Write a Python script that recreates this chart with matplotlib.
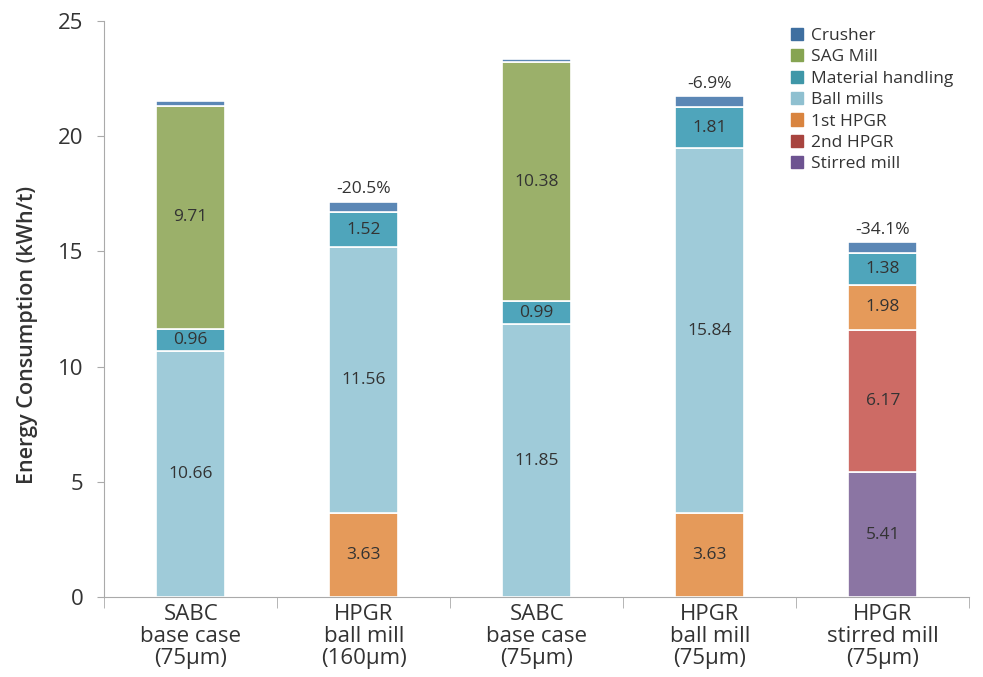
import matplotlib
matplotlib.use("Agg")
import matplotlib.pyplot as plt
import matplotlib.patches as mpatches
import numpy as np

plt.rcParams['font.family'] = ['Open Sans', 'DejaVu Sans']

# data
categories = ['SABC\nbase case\n(75µm)', 'HPGR\nball mill\n(160µm)', 'SABC\nbase case\n(75µm)',
              'HPGR\nball mill\n(75µm)', 'HPGR\nstirred mill\n(75µm)']
stirred = [0, 0, 0, 0, 5.41]
hpgr2 = [0, 0, 0, 0, 6.17]
hpgr1 = [0, 3.63, 0, 3.63, 1.98]
ball = [10.66, 11.56, 11.85, 15.84, 0]
material = [0.96, 1.52, 0.99, 1.81, 1.38]
sag = [9.71, 0, 10.38, 0, 0]
crusher = [0.2, 0.45, 0.12, 0.45, 0.45]
change_labels = ['', '-20.5%', '', '-6.9%', '-34.1%']

series = [('Stirred mill', stirred, '#8b75a3', '#6d5391'),
          ('2nd HPGR', hpgr2, '#cd6b65', '#a8443f'),
          ('1st HPGR', hpgr1, '#e59a5a', '#d9843f'),
          ('Ball mills', ball, '#9fcbd9', '#8fc0d0'),
          ('Material handling', material, '#4fa5bb', '#3f97a8'),
          ('SAG Mill', sag, '#9bb06a', '#86a452'),
          ('Crusher', crusher, '#5b87b5', '#3f6fa0')]

fig = plt.figure(figsize=(9.83, 6.77), dpi=100)
ax = fig.add_axes([0.106, 0.118, 0.88, 0.851])

x = np.arange(len(categories))
bottom = np.zeros(len(categories))
for name, vals, col, lcol in series:
    vals = np.array(vals)
    ax.bar(x, vals, 0.4, bottom=bottom, color=col, edgecolor='white', linewidth=1.2)
    if name != 'Crusher':
        for i in range(len(x)):
            if vals[i] > 0:
                ax.text(x[i], bottom[i] + vals[i] / 2, '%.2f' % vals[i], ha='center', va='center',
                        fontsize=12.5, color='#333333')
    bottom = bottom + vals

for i in range(len(x)):
    if change_labels[i]:
        ax.text(x[i], bottom[i] + 0.2, change_labels[i], ha='center', va='bottom', fontsize=12.5, color='#333333')

ax.set_xlim(-0.5, len(categories) - 0.5)
ax.set_ylim(0, 25)
ax.set_yticks([0, 5, 10, 15, 20, 25])
ax.set_xticks(x)
ax.set_xticklabels(categories, fontsize=16, color='#333333', linespacing=1.05)
ax.set_xticks(np.arange(-0.5, len(categories)), minor=True)
ax.tick_params(axis='x', which='major', length=0, pad=5)
ax.tick_params(axis='x', which='minor', length=8, color='#aaaaaa')
ax.tick_params(axis='y', labelsize=16, labelcolor='#333333', length=5, color='#aaaaaa', pad=10)

ax.spines['top'].set_visible(False)
ax.spines['right'].set_visible(False)
ax.spines['left'].set_color('#aaaaaa')
ax.spines['bottom'].set_color('#aaaaaa')

ax.set_ylabel('Energy Consumption (kWh/t)', fontsize=15.5, fontweight='semibold', color='#333333')
ax.yaxis.set_label_coords(-0.076, 0.455)

handles = [mpatches.Patch(color=s[3], label=s[0]) for s in series[::-1]]
ax.legend(handles=handles, loc='upper right', bbox_to_anchor=(1.0, 1.015), frameon=False, fontsize=12.5,
          handlelength=0.7, handleheight=0.7, handletextpad=0.5, labelspacing=0.3, labelcolor='#333333')

fig.savefig('out.png', dpi=100)
